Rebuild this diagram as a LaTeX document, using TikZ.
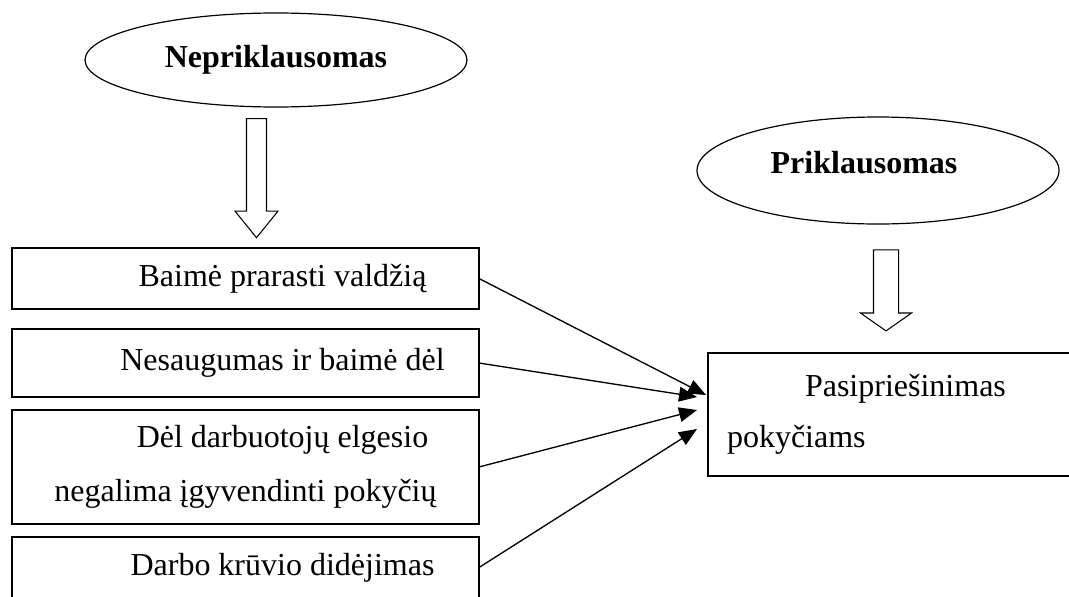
\documentclass[tikz,border=0pt]{standalone}
\usepackage{fontspec}
\setmainfont{Liberation Serif}
\usetikzlibrary{positioning, arrows.meta, shapes.geometric, shapes.arrows}

\newcommand{\parind}{\hspace*{55.5pt}}

\begin{document}
\begin{tikzpicture}[
    x=0.75pt, y=-0.75pt,
    font=\fontsize{24}{41}\selectfont,
    var/.style={
        ellipse, draw, line width=0.9pt,
        inner sep=0pt, outer sep=0pt,
        font=\fontsize{24}{41}\selectfont\bfseries,
    },
    item/.style={
        rectangle, draw, line width=1.2pt,
        minimum width=350.25pt,
        align=center, inner sep=0pt, outer sep=0pt,
    },
    result/.style={
        rectangle, draw, line width=1.2pt,
        minimum height=92.25pt, text width=250.5pt,
        inner xsep=14.25pt, align=left, outer sep=0pt,
    },
    fat/.style={single arrow, draw, line width=0.8pt, rotate=-90, inner xsep=0pt},
    link/.style={-{Triangle[length=13.5pt, width=11pt]}, line width=1pt},
]

\useasboundingbox (0,0) rectangle (1069,596);

% --- Variables ---
\node[var, minimum width=286.5pt, minimum height=70.5pt] (indep) at (276,60) {Nepriklausomas};
\node[var, minimum width=271.5pt, minimum height=80.25pt, text depth=12.75pt] (dep) at (878,170.5) {Priklausomas\hspace*{21pt}};

% --- Block arrows ---
\node[fat, inner ysep=7.1pt, minimum height=89.25pt, minimum width=31.5pt,
      single arrow head extend=8.6pt, single arrow tip angle=78] (down1) at (256.5,172) {};
\node[fat, inner ysep=9pt, minimum height=60.75pt, minimum width=37.5pt,
      single arrow head extend=9.75pt, single arrow tip angle=110] (down2) at (886,286) {};

% --- Causes ---
\node[item, minimum height=45.75pt] (b1) at (245.5,278.5) {\parind Baimė prarasti valdžią};
\node[item, minimum height=51pt, below=15pt of b1] (b2) {\parind Nesaugumas ir baimė dėl};
\node[item, minimum height=85.5pt, below=9.75pt of b2] (b3) {\parind Dėl darbuotojų elgesio\\negalima įgyvendinti pokyčių};
\node[item, minimum height=45.75pt, below=9.75pt of b3] (b4) {\parind Darbo krūvio didėjimas};

% --- Result ---
\node[result, anchor=west] (res) at (708,414.5) {\hspace*{58.5pt}Pasipriešinimas\\[-3pt]pokyčiams};

% --- Links into the result ---
\coordinate (p1) at (706,395);
\coordinate (p2) at (697,397);
\coordinate (p3) at (697,410);
\coordinate (p4) at (697,429);

\foreach \b/\p in {b1/p1, b2/p2, b3/p3, b4/p4}
    \draw[link] (\b.east) -- (\p);

\end{tikzpicture}
\end{document}
